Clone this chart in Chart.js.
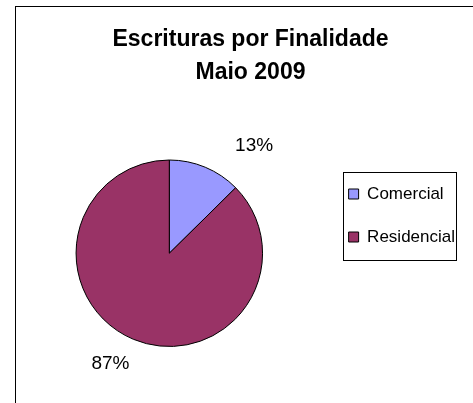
<!DOCTYPE html>
<html>
<head>
<meta charset="utf-8">
<script src="https://cdn.jsdelivr.net/npm/chart.js@4"></script>
<style>
  html, body { margin: 0; padding: 0; background: #fff; }
  #wrap { position: relative; width: 473px; height: 403px; overflow: hidden; }
  #frame { position: absolute; left: 15px; top: 6px; right: -5px; bottom: -5px;
           border-top: 1px solid #000; border-left: 1px solid #000; }
  #pie { position: absolute; left: 0; top: 0; }
</style>
</head>
<body>
<div id="wrap">
  <div id="frame"></div>
  <canvas id="pie" width="473" height="403"></canvas>
</div>
<script>
const categories = ["Comercial", "Residencial"];
const shares = [12.6, 87.4];
const sliceColors = ["#9999ff", "#993366"];
const titleLines = ["Escrituras por Finalidade", "Maio 2009"];

const FONT = "'Liberation Sans', Arial, sans-serif";

// nudges for the percent labels, relative to the point just outside each slice
const labelNudge = [[40, 0], [-14, 3]];

const titleShift = {
  id: "titleShift",
  afterLayout(chart) {
    // title is centred over the whole plot, not over the pie + legend block
    chart.titleBlock.left += 10;
    chart.titleBlock.right += 10;
  }
};

const legendFrame = {
  id: "legendFrame",
  afterDraw(chart) {
    const boxes = chart.legend.legendHitBoxes;
    if (!boxes || !boxes.length) return;
    const first = boxes[0], last = boxes[boxes.length - 1];
    const ctx = chart.ctx;
    ctx.save();
    ctx.strokeStyle = "#000";
    ctx.lineWidth = 1;
    const x0 = Math.round(first.left - 6) + 0.5;
    const y0 = Math.round(first.top - 14) + 0.5;
    const x1 = Math.round(first.left + 107) + 0.5;
    const y1 = Math.round(last.top + last.height + 14) + 0.5;
    ctx.strokeRect(x0, y0, x1 - x0, y1 - y0);
    ctx.restore();
  }
};

const sliceLabels = {
  id: "sliceLabels",
  afterDatasetsDraw(chart) {
    const ctx = chart.ctx;
    const data = chart.data.datasets[0].data;
    const total = data.reduce((a, b) => a + b, 0);
    ctx.save();
    ctx.font = "19px " + FONT;
    ctx.fillStyle = "#000";
    ctx.textAlign = "center";
    ctx.textBaseline = "middle";
    chart.getDatasetMeta(0).data.forEach((arc, i) => {
      const p = arc.getProps(["x", "y", "startAngle", "endAngle", "outerRadius"], true);
      const mid = (p.startAngle + p.endAngle) / 2;
      const r = p.outerRadius + 23;
      const x = p.x + Math.cos(mid) * r + labelNudge[i][0];
      const y = p.y + Math.sin(mid) * r + labelNudge[i][1];
      ctx.fillText(Math.round(data[i] / total * 100) + "%", x, y);
    });
    ctx.restore();
  }
};

new Chart(document.getElementById("pie"), {
  type: "pie",
  data: {
    labels: categories,
    datasets: [{
      data: shares,
      backgroundColor: sliceColors,
      borderColor: "#000",
      borderWidth: 1
    }]
  },
  options: {
    responsive: false,
    animation: false,
    devicePixelRatio: 1,
    layout: { padding: { left: 16, right: 8, top: 0, bottom: 56 } },
    plugins: {
      title: {
        display: true,
        text: titleLines,
        color: "#000",
        font: { family: FONT, size: 23, weight: "bold", lineHeight: 1.435 },
        padding: { top: 23, bottom: 70.5 }
      },
      legend: {
        display: true,
        position: "right",
        align: "start",
        fullSize: false,
        labels: {
          color: "#000",
          font: { family: FONT, size: 17 },
          boxWidth: 10,
          boxHeight: 10,
          padding: 26
        }
      },
      tooltip: { enabled: false }
    }
  },
  plugins: [titleShift, legendFrame, sliceLabels]
});
</script>
</body>
</html>
